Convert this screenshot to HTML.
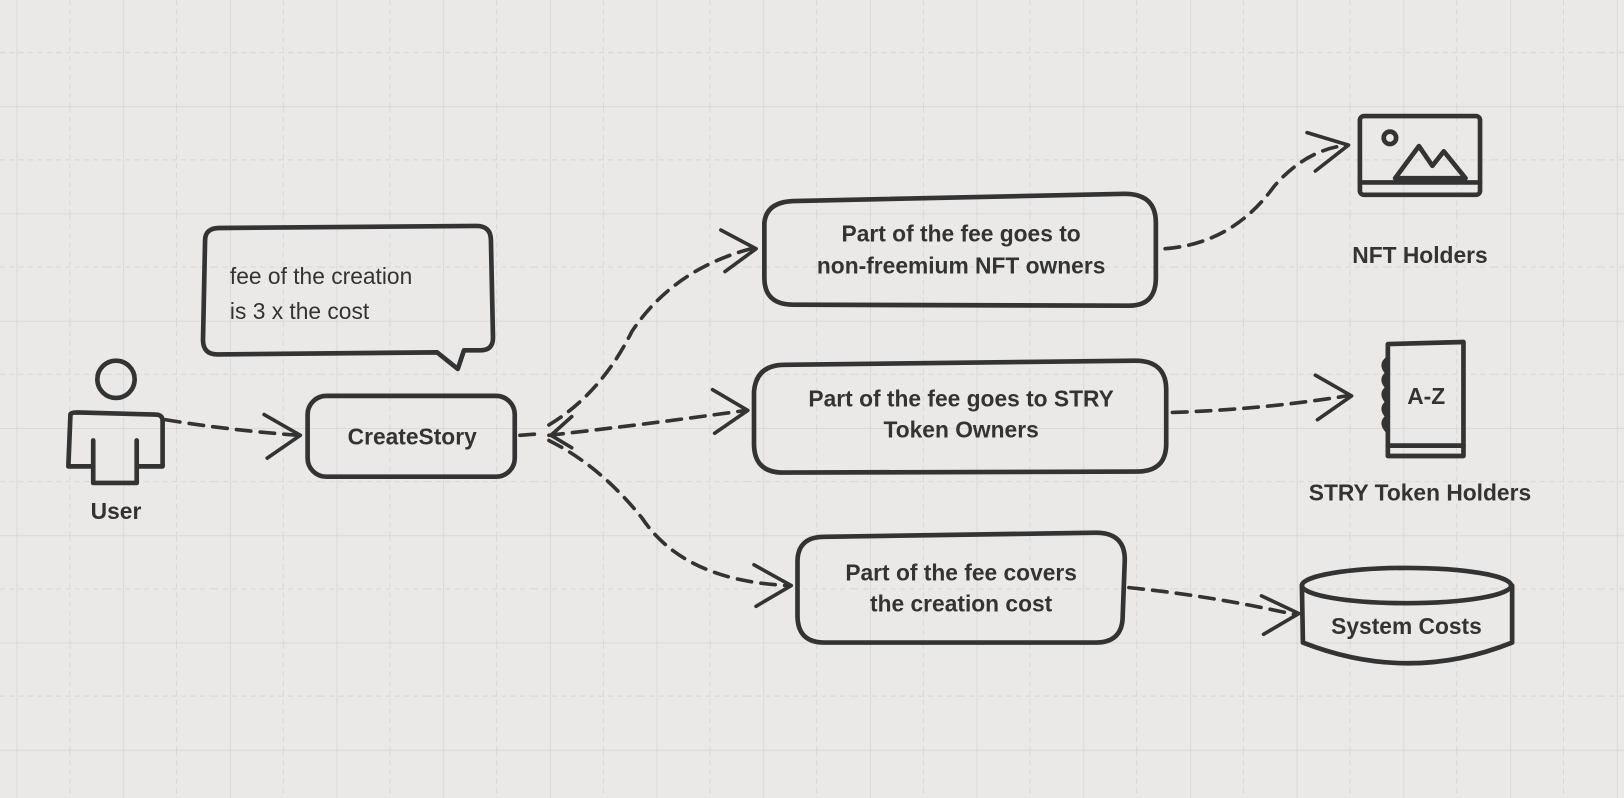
<!DOCTYPE html>
<html><head><meta charset="utf-8"><style>
html,body{margin:0;padding:0;background:#ebe9e7;}
svg{display:block}
text{font-family:"Liberation Sans",Arial,sans-serif;fill:#333;}
</style></head><body>
<svg width="1624" height="798" viewBox="0 0 1568 770" preserveAspectRatio="none" xmlns="http://www.w3.org/2000/svg">
<defs>
<pattern id="g" x="16" y="0" width="103" height="103.5" patternUnits="userSpaceOnUse">
<line x1="0" y1="0" x2="0" y2="103.5" stroke="#d6d4d2" stroke-width="1.5"/>
<line x1="51.5" y1="0" x2="51.5" y2="103.5" stroke="#d9d7d5" stroke-width="1" stroke-dasharray="5 4"/>
</pattern>
<pattern id="h" x="0" y="-1" width="103" height="103.5" patternUnits="userSpaceOnUse">
<line x1="0" y1="0" x2="103" y2="0" stroke="#d6d4d2" stroke-width="1.5"/>
<line x1="0" y1="51.7" x2="103" y2="51.7" stroke="#d9d7d5" stroke-width="1" stroke-dasharray="5 4"/>
</pattern>
</defs>
<rect width="1568" height="770" fill="#ebe9e7"/>
<rect width="1568" height="770" fill="url(#g)"/>
<rect width="1568" height="770" fill="url(#h)"/>
<g fill="none" stroke="#333" stroke-width="4.5" stroke-linecap="round" stroke-linejoin="round">
<circle cx="112" cy="366" r="18"/>
<path d="M68 400 Q68 398 75 398 L150 400 Q157 400 157 406 L157 450 L132 450 L132 466 L90 466 L90 450 L66 450 Z"/>
<path d="M90 450 L90 425 M132 450 L132 425"/>
<path d="M198 232 Q198 220 212 220 L460 218 Q474 218 474 232 L476 326 Q476 338 464 338 L448 338 L442 356 L422 340 L210 342 Q196 342 196 328 Z"/>
<rect x="297" y="382" width="200" height="78" rx="18"/>
<path d="M738 215 Q740 195 766 194 L1086 187 Q1116 187 1116 215 L1116 268 Q1116 295 1090 295 L766 294 Q738 294 738 268 Z"/>
<path d="M728 378 Q730 352 758 352 L1096 348 Q1126 348 1126 376 L1126 428 Q1126 455 1098 455 L756 456 Q728 456 728 428 Z"/>
<path d="M770 542 Q770 518 796 518 L1058 514 Q1086 514 1086 540 L1084 594 Q1084 620 1058 620 L796 620 Q770 620 770 594 Z"/>
<rect x="1313" y="112" width="116" height="76" rx="4"/>
<path d="M1313 176 L1429 176"/>
<circle cx="1342" cy="133" r="6"/>
<path d="M1347 172 L1370 141 L1383 160 L1394 146 L1415 172 Z"/>
<path d="M1340 332 L1413 330 L1413 440 L1340 440 Z"/>
<path d="M1340 430 L1413 430"/>
<path d="M1340 346 q-8 6 0 14 q-8 6 0 14 q-8 6 0 14 q-8 6 0 14 q-8 6 0 14"/>
<path d="M1257 565 L1258 620 Q1360 660 1460 620 L1460 565"/>
<ellipse cx="1358" cy="565" rx="101" ry="17"/>
</g>
<g fill="none" stroke="#333" stroke-width="3.5" stroke-dasharray="14 9" stroke-linecap="round">
<path d="M160 405 Q220 415 288 420"/>
<path d="M502 420 L516 419"/>
<path d="M530 410 Q580 380 610 320 Q650 260 725 240"/>
<path d="M530 420 Q620 410 720 396"/>
<path d="M530 425 Q580 450 620 500 Q660 560 760 565"/>
<path d="M1125 240 Q1190 235 1230 180 Q1260 145 1300 140"/>
<path d="M1132 398 Q1220 395 1300 382"/>
<path d="M1090 567 Q1170 575 1250 593"/>
</g>
<g fill="none" stroke="#333" stroke-width="3.5" stroke-linecap="round" stroke-linejoin="round">
<path d="M255 400 L290 420 L258 442"/>
<path d="M552 402 L532 420 L552 432"/>
<path d="M696 222 L730 240 L700 262"/>
<path d="M688 376 L722 396 L690 418"/>
<path d="M728 545 L764 565 L730 585"/>
<path d="M1262 128 L1302 140 L1270 165"/>
<path d="M1270 362 L1305 382 L1272 405"/>
<path d="M1218 575 L1254 592 L1220 612"/>
</g>
<g font-size="22" font-weight="bold" text-anchor="middle">
<text x="112" y="501">User</text>
<text x="398" y="429">CreateStory</text>
<text x="928" y="233">Part of the fee goes to</text>
<text x="928" y="264">non-freemium NFT owners</text>
<text x="928" y="392">Part of the fee goes to STRY</text>
<text x="928" y="422">Token Owners</text>
<text x="928" y="560">Part of the fee covers</text>
<text x="928" y="590">the creation cost</text>
<text x="1371" y="254">NFT Holders</text>
<text x="1371" y="483">STRY Token Holders</text>
<text x="1358" y="612">System Costs</text>
<text x="1377" y="390" font-size="22">A-Z</text>
</g>
<g font-size="22">
<text x="222" y="274">fee of the creation</text>
<text x="222" y="308">is 3 x the cost</text>
</g>
</svg>
</body></html>
